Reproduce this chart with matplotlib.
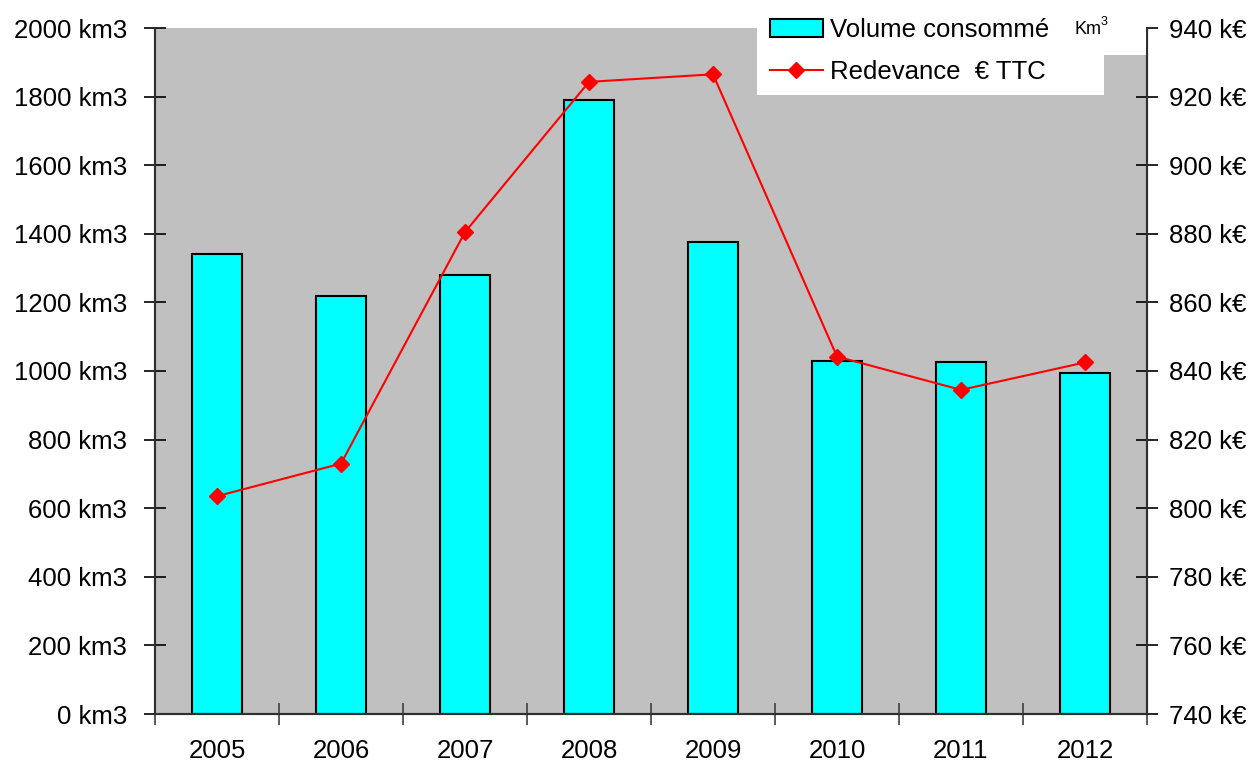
import matplotlib.pyplot as plt
import numpy as np
from matplotlib.lines import Line2D
from matplotlib.patches import Patch, Rectangle

plt.rcParams['font.family'] = ['Liberation Sans', 'DejaVu Sans']

# ---------------------------------------------------
# data
# ---------------------------------------------------
years = ["2005", "2006", "2007", "2008", "2009", "2010", "2011", "2012"]
volume_km3 = [1340, 1220, 1280, 1790, 1375, 1030, 1025, 995]
redevance_keur = [803.5, 813, 880.5, 924.3, 926.5, 844.2, 834.5, 842.5]

vol_ticks = np.arange(0, 2001, 200)
eur_ticks = np.arange(740, 941, 20)

# ---------------------------------------------------
# figure
# ---------------------------------------------------
fig = plt.figure(figsize=(12.53, 7.62), dpi=100)
ax = fig.add_axes([155 / 1253, 1 - 714 / 762, 992 / 1253, 686 / 762])
ax.set_facecolor("#c0c0c0")

x = np.arange(len(years))
ax.bar(x, volume_km3, width=0.4, color="#00ffff", edgecolor="black", linewidth=1.5, zorder=2)
ax.set_xlim(-0.5, len(years) - 0.5)
ax.set_ylim(0, 2000)
ax.set_yticks(vol_ticks)
ax.set_yticklabels([f"{v} km3" for v in vol_ticks])

ax.set_xticks(x)
ax.set_xticklabels(years)
ax.set_xticks(np.arange(-0.5, len(years)), minor=True)
ax.tick_params(axis="x", which="major", length=0, pad=18, labelsize=18.5)
ax.tick_params(axis="x", which="minor", direction="inout", length=16, width=1.2, color="#404040")
ax.tick_params(axis="y", direction="inout", length=16, width=1.2, pad=12, labelsize=18.5)

ax2 = ax.twinx()
ax2.plot(x, redevance_keur, color="red", linewidth=1.5, marker="D", markersize=8.5, zorder=3)
ax2.set_ylim(740, 940)
ax2.set_yticks(eur_ticks)
ax2.set_yticklabels([f"{v} k€" for v in eur_ticks])
ax2.tick_params(axis="y", direction="inout", length=16, width=1.2, pad=8, labelsize=18.5)

for a in (ax, ax2):
    a.spines["top"].set_visible(False)
    for s in ("left", "right", "bottom"):
        a.spines[s].set_linewidth(1.5)
        a.spines[s].set_color("#303030")

# white legend area
fig.patches.append(Rectangle((757 / 1253, 1 - 95 / 762), 347 / 1253, 95 / 762,
                             transform=fig.transFigure, facecolor="white", edgecolor="none", zorder=5))
fig.patches.append(Rectangle((1100 / 1253, 1 - 55 / 762), 46 / 1253, 55 / 762,
                             transform=fig.transFigure, facecolor="white", edgecolor="none", zorder=5))

handles = [Patch(facecolor="#00ffff", edgecolor="black", linewidth=1.5),
           Line2D([], [], color="red", linewidth=1.5, marker="D", markersize=8.5)]
labels = ["Volume consommé", "Redevance  € TTC"]
leg = fig.legend(handles, labels, loc="upper left", bbox_to_anchor=(757 / 1253, 1 - 5 / 762),
                 fontsize=18.5, frameon=False,
                 handlelength=2.05, handletextpad=0.3, labelspacing=0.72,
                 borderpad=0.5, borderaxespad=0)
leg.set_zorder(6)
fig.text(1075 / 1253, 1 - 30 / 762, "Km", fontsize=13, va="center", ha="left", zorder=7)
fig.text(1101 / 1253, 1 - 22 / 762, "3", fontsize=9, va="center", ha="left", zorder=7)

plt.savefig("out.png", dpi=100)
